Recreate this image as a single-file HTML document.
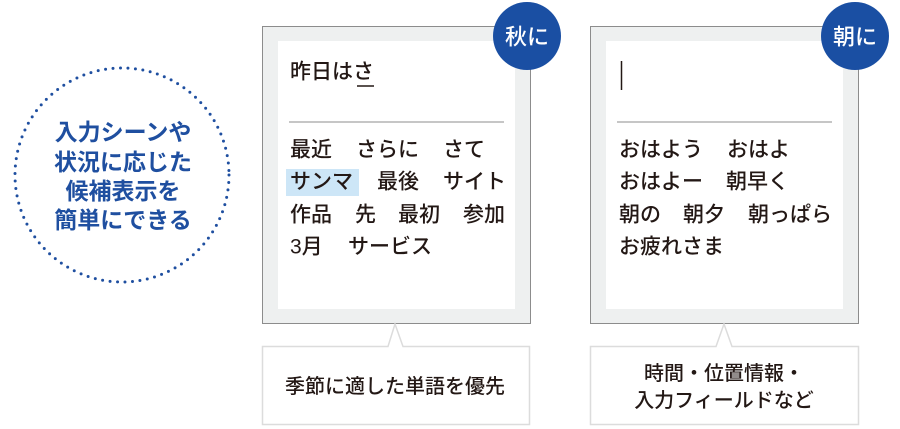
<!DOCTYPE html>
<html><head><meta charset="utf-8"><style>
html,body{margin:0;padding:0;background:#fff;}
svg{display:block;}
text{font-family:"Liberation Sans","Noto Sans CJK JP",sans-serif;}
</style></head><body>
<svg width="900" height="429" viewBox="0 0 900 429" xmlns="http://www.w3.org/2000/svg">
<circle cx="122" cy="175" r="107" fill="none" stroke="#1f4fa0" stroke-width="3" stroke-dasharray="0 7.5" stroke-linecap="round"/>
<g fill="#1f4fa0" font-size="23" font-weight="bold" text-anchor="middle" dominant-baseline="central">
<text x="123" y="132">入力シーンや</text>
<text x="123" y="162">状況に応じた</text>
<text x="123" y="191">候補表示を</text>
<text x="123" y="220">簡単にできる</text>
</g>

<rect x="262.5" y="26.5" width="268" height="297" fill="#eef0f0" stroke="#8c8c8c" stroke-width="1"/>
<rect x="278" y="41" width="237" height="268" fill="#fff"/>
<line x1="289" y1="122" x2="504" y2="122" stroke="#b4b4b4" stroke-width="1.5"/>
<g fill="#231815" font-size="21" font-weight="500" dominant-baseline="central">
<text x="290" y="72">昨日はさ</text>
</g>
<line x1="357" y1="86" x2="374" y2="86" stroke="#231815" stroke-width="1.5"/>
<rect x="286" y="169" width="73" height="27" fill="#cde6f7"/>
<g fill="#231815" font-size="21" font-weight="500" dominant-baseline="central">
<text x="290" y="150">最近</text><text x="356" y="150">さらに</text><text x="443" y="150">さて</text>
<text x="290" y="182">サンマ</text><text x="377" y="182">最後</text><text x="443" y="182">サイト</text>
<text x="290" y="215">作品</text><text x="355" y="215">先</text><text x="398" y="215">最初</text><text x="463" y="215">参加</text>
<text x="290" y="247">3月</text><text x="348" y="247">サービス</text>
</g>
<circle cx="527" cy="36" r="34" fill="#1a4fa3"/>
<text x="527" y="37" fill="#fff" font-size="22" font-weight="500" text-anchor="middle" dominant-baseline="central">秋に</text>
<path d="M262.5 346.5 H388 L395 324 L403 346.5 H529.5 V424.5 H262.5 Z" fill="#fff" stroke="#dcdcdc" stroke-width="1.5"/>
<text x="395" y="387" fill="#231815" font-size="20" font-weight="500" text-anchor="middle" dominant-baseline="central">季節に適した単語を優先</text>

<rect x="590.5" y="26.5" width="268" height="297" fill="#eef0f0" stroke="#8c8c8c" stroke-width="1"/>
<rect x="606" y="41" width="237" height="268" fill="#fff"/>
<line x1="617" y1="122" x2="832" y2="122" stroke="#b4b4b4" stroke-width="1.5"/>
<line x1="621.5" y1="61" x2="621.5" y2="90" stroke="#231815" stroke-width="1.5"/>
<g fill="#231815" font-size="21" font-weight="500" dominant-baseline="central">
<text x="619" y="150">おはよう</text><text x="727" y="150">おはよ</text>
<text x="619" y="182">おはよー</text><text x="726" y="182">朝早く</text>
<text x="619" y="215">朝の</text><text x="683" y="215">朝夕</text><text x="748" y="215">朝っぱら</text>
<text x="619" y="247">お疲れさま</text>
</g>
<circle cx="855" cy="36" r="34" fill="#1a4fa3"/>
<text x="855" y="37" fill="#fff" font-size="22" font-weight="500" text-anchor="middle" dominant-baseline="central">朝に</text>
<path d="M590.5 346.5 H716 L724 324 L732 346.5 H858.5 V424.5 H590.5 Z" fill="#fff" stroke="#dcdcdc" stroke-width="1.5"/>
<g fill="#231815" font-size="20" font-weight="500" text-anchor="middle" dominant-baseline="central">
<text x="724" y="374">時間・位置情報・</text>
<text x="724" y="401">入力フィールドなど</text>
</g>
</svg>
</body></html>
